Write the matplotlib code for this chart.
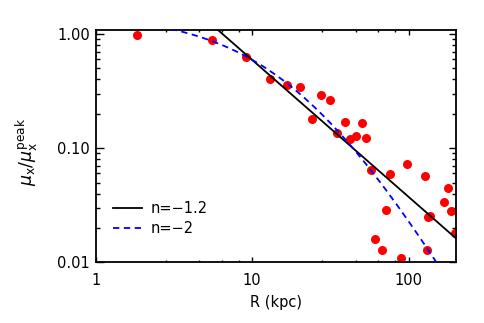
import numpy as np
import matplotlib
matplotlib.use("Agg")
import matplotlib.pyplot as plt
from matplotlib.ticker import FixedLocator, NullFormatter, LogLocator

# measured surface brightness profile (R in kpc, mu_x / mu_x^peak)
r_kpc = [1.85, 5.5, 9.2, 13.0, 16.6, 20.2, 24.0, 27.7, 31.5, 35.0,
         39.0, 42.5, 46.4, 50.0, 53.7, 57.5, 61.0, 68.0, 72.0, 75.6,
         90.0, 98.0, 128.0, 131.0, 133.0, 137.0, 168.0, 178.0, 187.0, 198.0]
mu_ratio = [0.99, 0.89, 0.63, 0.40, 0.36, 0.34, 0.18, 0.29, 0.265, 0.135,
            0.168, 0.12, 0.128, 0.166, 0.122, 0.064, 0.016, 0.0128, 0.029, 0.059,
            0.011, 0.073, 0.057, 0.0127, 0.025, 0.0255, 0.034, 0.045, 0.028, 0.018]

# model curves
n_power = -1.2
amp_power = 9.4
amp_beta, rc_beta, k_beta = 1.54, 20.0, 2.35

fs = 10.5
plt.rcParams['font.family'] = ['DejaVu Sans']
plt.rcParams['mathtext.fontset'] = 'dejavusans'

fig = plt.figure(figsize=(4.85, 3.23), dpi=100)
ax = fig.add_axes([0.1973, 0.1879, 0.7423, 0.7192])

ax.plot(r_kpc, mu_ratio, 'o', ms=6.5, color='red', mec='none', zorder=2)

xx = np.logspace(0, np.log10(200), 400)
ax.plot(xx, amp_power * xx ** n_power, color='black', lw=1.3, zorder=3,
        label='n=\u22121.2')
ax.plot(xx, amp_beta * (1 + xx / rc_beta) ** (-k_beta), color='blue', lw=1.3,
        ls=(0, (3.5, 2.5)), zorder=3, label='n=\u22122')

ax.set_xscale('log')
ax.set_yscale('log')
ax.set_xlim(1, 200)
ax.set_ylim(0.01, 1.084)

ax.set_xticks([1, 10, 100])
ax.set_xticklabels(['1', '10', '100'])
ax.xaxis.set_minor_locator(FixedLocator([2.8, 4.6, 6.4, 8.2, 28, 46, 64, 82]))
ax.xaxis.set_minor_formatter(NullFormatter())
ax.set_yticks([0.01, 0.1, 1.0])
ax.set_yticklabels(['0.01', '0.10', '1.00'])
ax.yaxis.set_minor_locator(LogLocator(base=10, subs=np.arange(2, 10)))
ax.yaxis.set_minor_formatter(NullFormatter())

ax.tick_params(which='both', direction='in', top=True, right=True, width=1.0,
               labelsize=fs)
ax.tick_params(axis='x', which='major', length=3.3, pad=8)
ax.tick_params(axis='x', which='minor', length=1.7)
ax.tick_params(axis='y', which='major', length=5.4, pad=4)
ax.tick_params(axis='y', which='minor', length=2.7)
for s in ax.spines.values():
    s.set_linewidth(1.3)

ax.set_xlabel('R (kpc)', fontsize=fs)
ax.xaxis.set_label_coords(0.5, -0.14)
ax.set_ylabel(r'$\mu_{\rm x}/\mu_{\rm x}^{\rm peak}$', fontsize=12.5)
ax.yaxis.set_label_coords(-0.155, 0.475)

ax.legend(loc='center left', bbox_to_anchor=(0.049, 0.19), frameon=False,
          fontsize=fs, borderpad=0, borderaxespad=0, handlelength=2.0,
          handletextpad=0.55, labelspacing=0.35)

fig.savefig('out.png', dpi=100)
